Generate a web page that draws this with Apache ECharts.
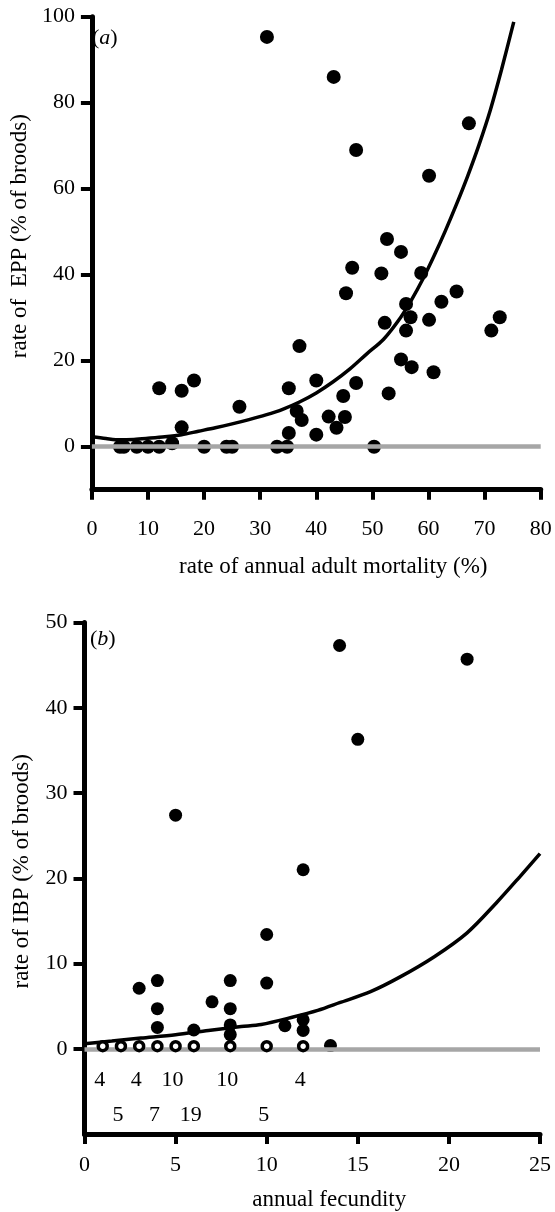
<!DOCTYPE html>
<html>
<head>
<meta charset="utf-8">
<script src="https://cdn.jsdelivr.net/npm/echarts@6/dist/echarts.min.js"></script>
<style>
html,body{margin:0;padding:0;background:#fff}
#main{width:555px;height:1212px}
</style>
</head>
<body>
<div id="main"></div>
<script>
// (a) extra-pair paternity vs adult mortality
let mortality = [5.0,5.7,8.0,10.0,12.0,14.3,20.0,24.0,25.0,33.0,34.8,50.3,
  12.0,16.0,18.2,16.0,26.3,35.1,35.1,36.5,37.4,37.0,40.0,40.0,42.2,45.1,43.6,44.8,47.1,
  45.3,46.4,47.1,43.1,31.2,51.6,52.6,52.2,52.9,55.1,55.1,56.0,56.8,56.0,57.0,58.7,
  60.1,60.1,60.9,62.3,65.0,67.2,71.2,72.7]
let epp = [0,0,0,0,0,0.8,0,0,0,0,0,0,
  13.6,13.0,15.4,4.5,9.3,13.6,3.2,8.3,6.2,23.4,15.4,2.8,7.0,6.9,4.4,11.8,14.8,
  35.7,41.6,69.0,86.0,95.3,40.3,48.3,28.8,12.4,45.3,20.3,33.2,30.1,27.0,18.5,40.4,
  63.0,29.5,17.3,33.7,36.1,75.2,27.0,30.1]
let eppFitX = [0,2.5,5,7.5,10,13,16,19,22,25,28,31,34,37,40,43,46,49,52,55,57,59,61,63,65,67,69,71,73,75.2]
let eppFitY = [2.3,1.9,1.6,1.7,1.95,2.3,2.8,3.6,4.4,5.3,6.3,7.4,8.7,10.4,12.5,15.1,18.1,21.6,25.0,30.0,34.2,39.0,44.4,50.2,56.4,63.0,70.2,78.2,87.6,98.8]
let ticksA = [0,20,40,60,80,100]

// (b) intraspecific brood parasitism vs fecundity
let fecundity = [14,21,15,5,12,10,3,4,4,4,6,7,8,8,8,8,10,11,12,12,13.5]
let ibp = [47.3,45.7,36.3,27.4,21.0,13.4,7.1,8.0,4.7,2.5,2.2,5.5,8.0,4.7,2.8,1.65,7.7,2.7,3.4,2.15,0.37]
let zeroFecundity = [1,2,3,4,5,6,8,10,12]
let zeroCounts = [4,5,4,7,10,19,10,5,4]
let ibpFitX = [0,1.5,3.1,5,6.8,8.6,9.7,11.4,12.8,14,15.7,17.3,19.2,21,22.6,23.9,25]
let ibpFitY = [0.6,0.9,1.25,1.65,2.15,2.6,2.85,3.7,4.5,5.4,6.7,8.4,10.8,13.6,17.1,20.2,22.9]
let ticksB = [0,10,20,30,40,50]

const font = '"Liberation Serif", "Times New Roman", serif'
const zip = (xs, ys) => xs.map((x, i) => [x, ys[i]])

function xAxis(idx, max, step, name, margin, gap) {
  return {
    type: 'value', gridIndex: idx, min: 0, max: max, interval: step,
    axisLine: { show: true, onZero: false, lineStyle: { color: '#000', width: 5 } },
    axisTick: { show: true, length: 10, lineStyle: { color: '#000', width: 4 } },
    axisLabel: { margin: margin, fontSize: 22, color: '#000', fontFamily: font, showMinLabel: true, showMaxLabel: true },
    splitLine: { show: false },
    name: name, nameLocation: 'middle', nameGap: gap,
    nameTextStyle: { fontSize: 23, color: '#000', fontFamily: font, padding: [0, 0, 0, 34] }
  }
}
function yAxis(idx, max, ticks, name, shift) {
  return {
    type: 'value', gridIndex: idx, min: -10, max: max,
    axisLine: { show: true, onZero: false, lineStyle: { color: '#000', width: 5 } },
    axisTick: { show: true, length: 11, customValues: ticks, lineStyle: { color: '#000', width: 4 } },
    axisLabel: { margin: 17, fontSize: 22, color: '#000', fontFamily: font, customValues: ticks },
    splitLine: { show: false },
    name: name, nameLocation: 'middle', nameRotate: 90, nameGap: 51,
    nameTextStyle: { fontSize: 23, color: '#000', fontFamily: font, padding: [0, 0, 0, shift] }
  }
}
const panelTitle = (letter, left, top) => ({
  text: '{p|(}{i|' + letter + '}{p|)}', left: left, top: top, padding: 0,
  textStyle: { fontWeight: 'normal', rich: {
    p: { fontSize: 22, fontFamily: font, fontWeight: 'normal', color: '#000' },
    i: { fontSize: 22, fontFamily: font, fontWeight: 'normal', fontStyle: 'italic', color: '#000' }
  } }
})
const zeroLine = {
  silent: true, symbol: 'none', label: { show: false },
  lineStyle: { color: '#a6a6a6', width: 4.5, type: 'solid', opacity: 1 },
  data: [{ yAxis: 0 }]
}

var myChart = echarts.init(document.getElementById('main'))
var option = {
  backgroundColor: '#fff',
  animation: false,
  title: [panelTitle('a', 92, 27), panelTitle('b', 90, 628)],
  grid: [
    { left: 84.5, top: 16.7, width: 456.2, height: 473 },
    { left: 84.5, top: 622.5, width: 455.5, height: 514 }
  ],
  xAxis: [
    xAxis(0, 80, 10, 'rate of annual adult mortality (%)', 29, 66),
    xAxis(1, 25, 5, 'annual fecundity', 20, 54)
  ],
  yAxis: [
    yAxis(0, 100, ticksA, 'rate of  EPP (% of broods)', 34),
    yAxis(1, 50, ticksB, 'rate of IBP (% of broods)', 14)
  ],
  series: [
    {
      type: 'scatter', xAxisIndex: 0, yAxisIndex: 0, z: 3,
      symbolSize: 14, itemStyle: { color: '#000', opacity: 1 },
      data: zip(mortality, epp),
      markLine: zeroLine
    },
    {
      type: 'line', xAxisIndex: 0, yAxisIndex: 0, z: 4,
      showSymbol: false, smooth: 0.3,
      lineStyle: { color: '#000', width: 3.5 },
      data: zip(eppFitX, eppFitY)
    },
    {
      type: 'scatter', xAxisIndex: 1, yAxisIndex: 1, z: 3,
      symbolSize: 13, itemStyle: { color: '#000', opacity: 1 },
      data: zip(fecundity, ibp),
      markLine: zeroLine
    },
    {
      type: 'line', xAxisIndex: 1, yAxisIndex: 1, z: 4,
      showSymbol: false, smooth: 0.3,
      lineStyle: { color: '#000', width: 3.5 },
      data: zip(ibpFitX, ibpFitY)
    },
    {
      // species with no IBP, with counts below
      type: 'scatter', xAxisIndex: 1, yAxisIndex: 1, z: 5,
      symbolSize: 9,
      itemStyle: { color: '#fff', borderColor: '#000', borderWidth: 3.5, opacity: 1 },
      data: zeroFecundity.map(x => [x, 0.3])
    },
    {
      type: 'scatter', xAxisIndex: 1, yAxisIndex: 1, z: 5,
      symbolSize: 0, silent: true, itemStyle: { opacity: 1 },
      label: {
        show: true, position: 'inside', offset: [-3, 0],
        fontSize: 22, color: '#000', fontFamily: font,
        formatter: p => zeroCounts[p.dataIndex]
      },
      data: zeroFecundity.map((x, i) => [x, i % 2 ? -7.85 : -3.7])
    }
  ]
}
myChart.setOption(option)
</script>
</body>
</html>
